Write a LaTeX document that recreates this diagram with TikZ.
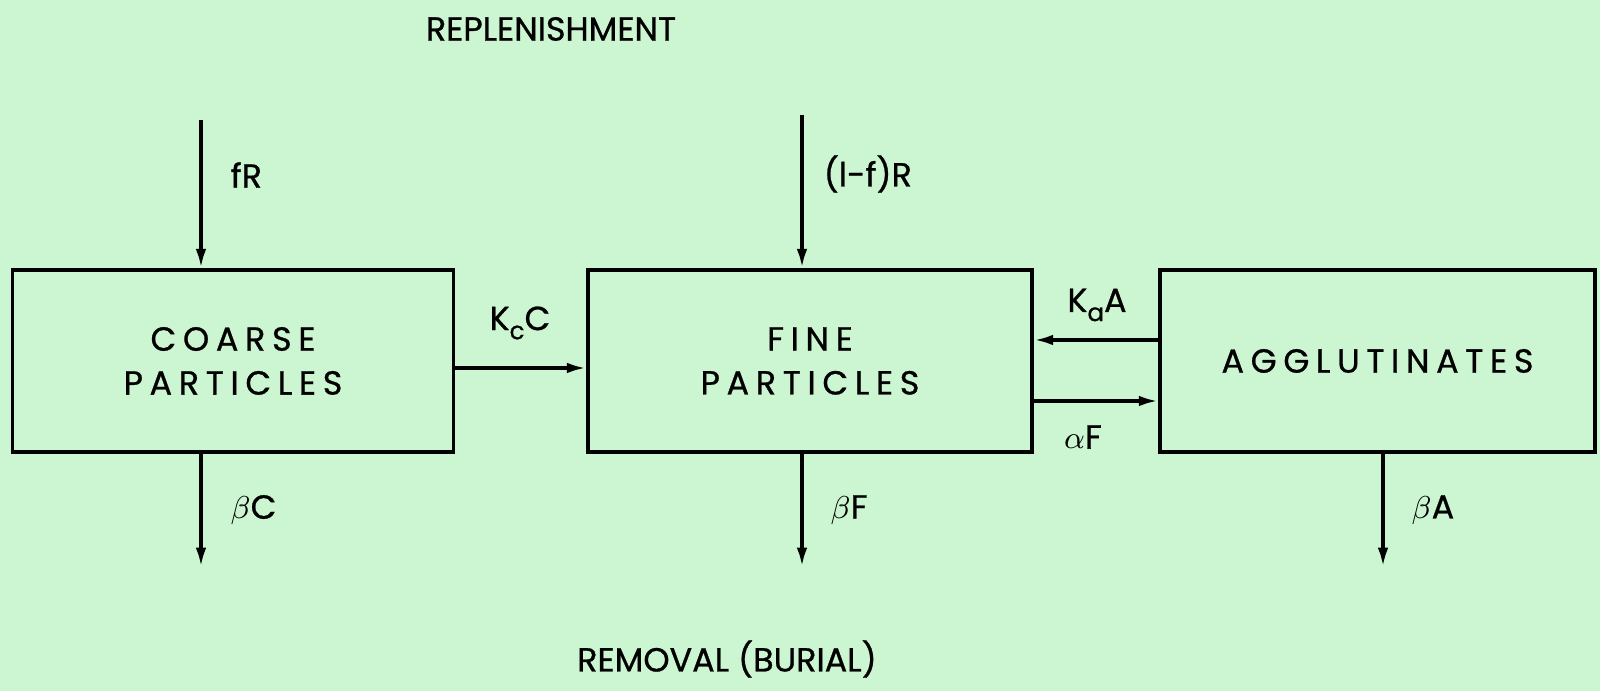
\documentclass[tikz,border=0pt]{standalone}
\usepackage{fontspec}
\setmainfont{Poppins}[FakeBold=0.8]
\newfontfamily\wideface{Poppins}[LetterSpace=20, FakeBold=0.8]
\usetikzlibrary{arrows.meta}
\definecolor{paper}{RGB}{204,246,210}
\newcommand{\lbl}{\fontsize{9.5}{12.5}\selectfont}
\newcommand{\lowsub}[1]{\raisebox{-0.5ex}{\fontsize{7}{8}\selectfont #1}}
\tikzset{
    box/.style={draw, line width=1pt, minimum height=1.82cm, inner sep=0pt, align=center, font=\lbl\wideface},
    flow/.style={line width=1pt, -{Latex[length=5.5pt,width=3pt]}},
    lab/.style={font=\lbl, inner sep=0pt},
}
\begin{document}
\begin{tikzpicture}
    \fill[paper] (0, 0) rectangle (16, 6.91);
    \useasboundingbox (0, 0) rectangle (16, 6.91);
    % titles
    \node[lab] (repl) at (5.51, 6.62) {REPLENISHMENT};
    \node[lab] (remov) at (7.27, 0.32) {REMOVAL (BURIAL)};
    % boxes
    \node[box, minimum width=4.41cm] (coarse) at (2.33, 3.30) {COARSE\\PARTICLES};
    \node[box, minimum width=4.44cm] (fine) at (8.10, 3.30) {FINE\\PARTICLES};
    \node[box, minimum width=4.35cm] (agg) at (13.775, 3.30) {AGGLUTINATES};
    % replenishment
    \coordinate (inC) at (2.01, 5.71);
    \coordinate (inF) at (8.02, 5.76);
    \draw[flow] (inC) -- (inC |- coarse.north);
    \draw[flow] (inF) -- (inF |- fine.north);
    \node[lab, anchor=west] (fR) at (2.30, 5.16) {fR};
    \node[lab, anchor=west] (lfR) at (8.23, 5.17) {(l-f)R};
    % exchange
    \draw[flow] ([yshift=-0.7mm]coarse.east) -- ([yshift=-0.7mm]fine.west);
    \draw[flow] ([yshift=2.1mm]agg.west) -- ([yshift=2.1mm]fine.east);
    \draw[flow] ([yshift=-4mm]fine.east) -- ([yshift=-4mm]agg.west);
    \node[lab] (kc) at (5.20, 3.68) {K\lowsub{c}C};
    \node[lab] (ka) at (10.97, 3.86) {K\lowsub{a}A};
    \node[lab] (af) at (10.83, 2.54) {$\alpha$F};
    % burial
    \coordinate (outC) at (2.01, 1.24);
    \coordinate (outF) at (8.02, 1.24);
    \coordinate (outA) at (13.83, 1.24);
    \draw[flow] (outC |- coarse.south) -- (outC);
    \draw[flow] (outF |- fine.south) -- (outF);
    \draw[flow] (outA |- agg.south) -- (outA);
    \node[lab, anchor=west] (bc) at (2.30, 1.81) {$\beta$C};
    \node[lab, anchor=west] (bf) at (8.30, 1.81) {$\beta$F};
    \node[lab, anchor=west] (ba) at (14.11, 1.81) {$\beta$A};
\end{tikzpicture}
\end{document}
